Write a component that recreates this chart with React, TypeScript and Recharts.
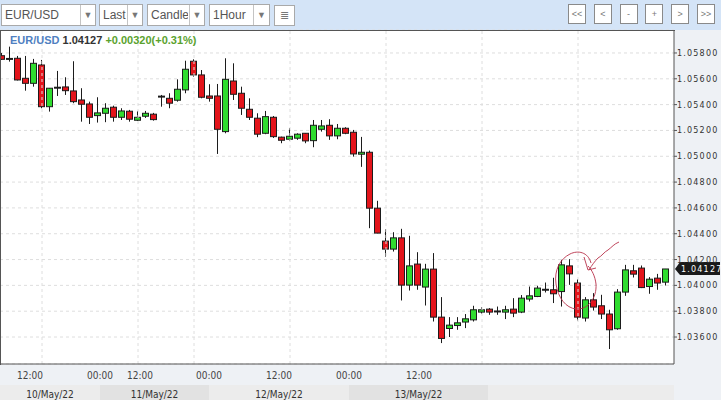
import React from 'react';
import { ComposedChart, Bar, XAxis, YAxis, CartesianGrid, ReferenceLine } from 'recharts';

// hourly EUR/USD candles
const opens = [
  1.05779, 1.05754, 1.05759, 1.05604, 1.05565, 1.05707, 1.05384, 1.05531, 1.05537, 1.05506,
  1.05436, 1.05405, 1.05315, 1.05333, 1.0538, 1.05302, 1.05349, 1.05279, 1.0531, 1.05326,
  1.05462, 1.05449, 1.05434, 1.05514, 1.05736, 1.0563, 1.05467, 1.05467, 1.05191, 1.05583,
  1.05488, 1.05364, 1.05295, 1.05178, 1.05302, 1.05148, 1.05132, 1.0514, 1.05178, 1.05121,
  1.05209, 1.0524, 1.05158, 1.05217, 1.05186, 1.05016, 1.05031, 1.04598, 1.04343, 1.04281,
  1.04368, 1.04002, 1.04165, 1.03987, 1.04126, 1.03754, 1.03666, 1.03689, 1.03716, 1.03733,
  1.03793, 1.03816, 1.03798, 1.03793, 1.03816, 1.03793, 1.03894, 1.03914, 1.03966, 1.03966,
  1.03952, 1.04151, 1.04018, 1.03747, 1.03888, 1.03842, 1.03778, 1.03664, 1.03948, 1.04113,
  1.04134, 1.03991, 1.04056, 1.04025,
];
const highs = [
  1.058, 1.05849, 1.05777, 1.05777, 1.05754, 1.05746, 1.05529, 1.05661, 1.05612, 1.05736,
  1.05527, 1.05423, 1.05457, 1.05411, 1.05392, 1.05372, 1.05359, 1.05351, 1.05351, 1.05336,
  1.05475, 1.05488, 1.05596, 1.0574, 1.05751, 1.05668, 1.05558, 1.0556, 1.05759, 1.0572,
  1.05539, 1.05449, 1.05333, 1.05351, 1.05312, 1.05152, 1.05217, 1.05178, 1.0518, 1.05281,
  1.05281, 1.05287, 1.0525, 1.05225, 1.05204, 1.0515, 1.05044, 1.04655, 1.04435, 1.04412,
  1.04438, 1.04384, 1.04257, 1.04167, 1.0425, 1.03909, 1.03754, 1.03754, 1.03778, 1.03842,
  1.03832, 1.03824, 1.03836, 1.03842, 1.03901, 1.03925, 1.03991, 1.03997, 1.04022, 1.04059,
  1.04198, 1.04203, 1.04048, 1.03909, 1.0394, 1.03927, 1.03811, 1.03971, 1.04159, 1.04159,
  1.04154, 1.04064, 1.04089, 1.04127,
];
const lows = [
  1.05746, 1.05733, 1.05587, 1.05508, 1.05539, 1.05372, 1.05346, 1.05467, 1.05475, 1.05411,
  1.05268, 1.0525, 1.05261, 1.05264, 1.05268, 1.05281, 1.05268, 1.05274, 1.05297, 1.05276,
  1.05384, 1.05372, 1.05423, 1.05488, 1.05617, 1.05449, 1.05423, 1.05018, 1.05178, 1.05436,
  1.0532, 1.05281, 1.05148, 1.05171, 1.05142, 1.05101, 1.05121, 1.05127, 1.05101, 1.0507,
  1.05191, 1.05127, 1.05132, 1.05171, 1.04997, 1.04918, 1.04443, 1.04403, 1.04223, 1.04262,
  1.03883, 1.0396, 1.03966, 1.03844, 1.0372, 1.03553, 1.036, 1.03656, 1.03669, 1.0372,
  1.0378, 1.03772, 1.03772, 1.03739, 1.03754, 1.03785, 1.03875, 1.03909, 1.03945, 1.03863,
  1.03836, 1.04004, 1.03728, 1.0372, 1.03805, 1.03739, 1.03507, 1.03656, 1.03919, 1.04061,
  1.03979, 1.03935, 1.03966, 1.03999,
];
const closes = [
  1.05751, 1.05754, 1.05591, 1.05565, 1.0572, 1.05384, 1.05527, 1.05531, 1.05508, 1.05423,
  1.05403, 1.05302, 1.05336, 1.05372, 1.05302, 1.05351, 1.05287, 1.05302, 1.05333, 1.05284,
  1.05462, 1.05411, 1.05519, 1.05674, 1.0563, 1.05457, 1.05449, 1.05209, 1.05596, 1.0548,
  1.05372, 1.05302, 1.05171, 1.05307, 1.05152, 1.05124, 1.05155, 1.05171, 1.05119, 1.0524,
  1.05235, 1.05158, 1.05217, 1.05178, 1.05018, 1.05031, 1.04598, 1.04405, 1.04281, 1.04368,
  1.04002, 1.04151, 1.04002, 1.04126, 1.03754, 1.03589, 1.03692, 1.0371, 1.03741, 1.03811,
  1.03811, 1.03793, 1.03798, 1.03811, 1.03785, 1.03901, 1.03919, 1.03979, 1.03966, 1.03935,
  1.04159, 1.04089, 1.03754, 1.03888, 1.03832, 1.03778, 1.03656, 1.03948, 1.0412, 1.04087,
  1.03983, 1.04048, 1.04018, 1.04127,
];

const priceTicks = [1.036, 1.038, 1.04, 1.042, 1.044, 1.046, 1.048, 1.05, 1.052, 1.054, 1.056, 1.058];
const gridHours = [5, 17, 24, 36, 48, 60, 72];
const timeTickPos = [3.5, 12.25, 17.25, 25.875, 34.625, 43.375, 52.125];
const timeTickLabels = ['12:00', '00:00', '12:00', '00:00', '12:00', '00:00', '12:00'];
const dateStarts = [-0.25, 12.25, 25.875, 43.375, 60.75];
const dateEnds = [12.25, 25.875, 43.375, 60.75, 84];
const dateLabels = ['10/May/22', '11/May/22', '12/May/22', '13/May/22', ''];
const dateShades = ['#ececec', '#e2e2e2', '#ececec', '#e2e2e2', '#ececec'];

const symbol = 'EUR/USD';
const lastPrice = 1.04127;
const changeText = '+0.00320(+0.31%)';

const X_DOMAIN: [number, number] = [-0.25, 84];
const Y_DOMAIN: [number, number] = [1.03391, 1.05978];
const PLOT_W = 674;
const PX_PER_UNIT = PLOT_W / (X_DOMAIN[1] - X_DOMAIN[0]);

const data = opens.map((o, i) => ({
  idx: i,
  open: o,
  high: highs[i],
  low: lows[i],
  close: closes[i],
}));

const INK = '#1c1c1c';

function Candle(props: any) {
  const { x, y, width, height, payload } = props;
  if (!payload) return null;
  const { open, close, high, low } = payload;
  const top = Math.min(y, y + height);
  const span = Math.abs(height);
  const k = span / (high - low);
  const py = (v: number) => top + (high - v) * k;
  const cx = Math.floor(x + width / 2) + 0.5;
  const bTop = py(Math.max(open, close));
  const bBot = py(Math.min(open, close));
  const fill = close > open ? '#2fdc2f' : '#e3141b';
  return (
    <g>
      <line x1={cx} x2={cx} y1={top} y2={top + span} stroke={INK} strokeWidth={1} />
      {open === close ? (
        <line x1={cx - 3.5} x2={cx + 3.5} y1={bTop} y2={bTop} stroke={INK} strokeWidth={2} />
      ) : (
        <rect x={cx - 3} y={bTop} width={6} height={Math.max(bBot - bTop, 1.5)} fill={fill} stroke={INK} strokeWidth={1} />
      )}
    </g>
  );
}

function PriceTick({ x, y, payload }: any) {
  return (
    <text x={x} y={y} dy={3} fontSize={8} fill="#333" letterSpacing={1.2} fontFamily="DejaVu Sans, sans-serif" textAnchor="start">
      {payload.value.toFixed(5)}
    </text>
  );
}

function TimeTick({ x, y, index }: any) {
  return (
    <text x={x} y={y + 13} fontSize={10} fill="#444" textAnchor="middle" fontFamily='"Liberation Sans Narrow", "DejaVu Sans Condensed", sans-serif'>
      {timeTickLabels[index]}
    </text>
  );
}

function DateTick({ x, y, index }: any) {
  const w = (dateEnds[index] - dateStarts[index]) * PX_PER_UNIT;
  return (
    <g>
      <rect x={x - w / 2} y={y} width={w} height={17} fill={dateShades[index]} />
      <text x={x} y={y + 13} fontSize={10} fill="#333" textAnchor="middle" fontFamily='"Liberation Sans Narrow", "DejaVu Sans Condensed", sans-serif'>
        {dateLabels[index]}
      </text>
    </g>
  );
}

function PriceTag({ viewBox }: any) {
  if (!viewBox) return null;
  const r = viewBox.x + viewBox.width;
  const y = viewBox.y;
  return (
    <g>
      <path d={`M${r + 1},${y} L${r + 6},${y - 7} L${r + 46},${y - 7} L${r + 46},${y + 6} L${r + 6},${y + 6} Z`} fill="#1a1a1a" />
      <text x={r + 7} y={y + 3} fontSize={8} fill="#fff" letterSpacing={1.2} fontFamily="DejaVu Sans, sans-serif">
        {lastPrice.toFixed(5)}
      </text>
    </g>
  );
}

function Dropdown({ left, width, split, label }: any) {
  return (
    <div style={{ position: 'absolute', left, top: 4, width, height: 22, boxSizing: 'border-box', border: '1px solid #a9a9a9', background: '#fff' }}>
      <div style={{ position: 'absolute', left: 3, top: 3, width: split - 4, overflow: 'hidden', whiteSpace: 'nowrap', fontSize: 12, color: '#555' }}>{label}</div>
      <div style={{ position: 'absolute', left: split, top: 0, bottom: 0, right: 0, borderLeft: '1px solid #c4c4c4', color: '#777', fontSize: 9, textAlign: 'center', lineHeight: '20px' }}>▼</div>
    </div>
  );
}

const navButtons = ['<<', '<', '-', '+', '>', '>>'];

export default function App() {
  return (
    <div style={{ position: 'absolute', left: 0, top: 0, width: 721, height: 400, overflow: 'hidden', background: '#eef1f5', fontFamily: '"Liberation Sans", Arial, sans-serif' }}>
      <div style={{ position: 'absolute', left: 0, top: 0, width: 721, height: 30, background: '#d4e4f7' }} />
      <div style={{ position: 'absolute', left: 0, top: 0 }}>
        <ComposedChart width={721} height={400} data={data} margin={{ top: 30, right: 0, left: 0, bottom: 0 }}>
          <CartesianGrid xAxisId="a" vertical={false} stroke="#dedede" strokeDasharray="3 3" fill="#fff" />
          <XAxis
            xAxisId="a"
            dataKey="idx"
            type="number"
            domain={X_DOMAIN}
            allowDataOverflow
            ticks={timeTickPos}
            interval={0}
            height={19}
            tickLine={false}
            tickSize={0}
            axisLine={{ stroke: '#555' }}
            tick={<TimeTick />}
          />
          <XAxis
            xAxisId="b"
            dataKey="idx"
            type="number"
            domain={X_DOMAIN}
            allowDataOverflow
            ticks={dateStarts.map((s, i) => (s + dateEnds[i]) / 2)}
            interval={0}
            height={17}
            tickLine={false}
            tickSize={0}
            axisLine={false}
            tick={<DateTick />}
          />
          <YAxis
            orientation="right"
            type="number"
            domain={Y_DOMAIN}
            allowDataOverflow
            ticks={priceTicks}
            interval={0}
            width={47}
            tickSize={3}
            tickMargin={0}
            tickLine={{ stroke: '#555' }}
            axisLine={{ stroke: '#555' }}
            tick={<PriceTick />}
          />
          {gridHours.map((h) => (
            <ReferenceLine key={h} xAxisId="a" x={h} stroke="#dedede" strokeDasharray="3 3" />
          ))}
          <Bar
            xAxisId="a"
            dataKey={(d: any) => [d.low, d.high]}
            barSize={7}
            shape={<Candle />}
            isAnimationActive={false}
          />
          <ReferenceLine xAxisId="a" y={lastPrice} stroke="none" ifOverflow="visible" label={<PriceTag />} />
        </ComposedChart>
      </div>
      <div style={{ position: 'absolute', left: 0, top: 30, width: 675, height: 335, boxSizing: 'border-box', borderLeft: '1px solid #555', borderTop: '1px solid #555', pointerEvents: 'none' }} />
      <div style={{ position: 'absolute', left: 10, top: 34, fontSize: 11, fontWeight: 'bold', whiteSpace: 'nowrap' }}>
        <span style={{ color: '#4f7fc1' }}>{symbol}</span>{' '}
        <span style={{ color: '#333' }}>{lastPrice.toFixed(5)}</span>{' '}
        <span style={{ color: '#5aa22d' }}>{changeText}</span>
      </div>
      <Dropdown left={1} width={95} split={78} label="EUR/USD" />
      <Dropdown left={99} width={44} split={27} label="Last" />
      <Dropdown left={147} width={58} split={41} label="Candle" />
      <Dropdown left={209} width={61} split={43} label="1Hour" />
      <div style={{ position: 'absolute', left: 274, top: 5, width: 21, height: 21, boxSizing: 'border-box', border: '1px solid #a9a9a9', background: '#fff', color: '#777', fontSize: 11, textAlign: 'center', lineHeight: '19px' }}>≣</div>
      {navButtons.map((b, i) => (
        <div key={i} style={{ position: 'absolute', left: 568 + i * 25.8, top: 4, width: 18, height: 20, boxSizing: 'border-box', border: '1px solid #8a8a8a', background: '#fff', color: '#777', fontSize: 9, textAlign: 'center', lineHeight: '18px' }}>{b}</div>
      ))}
      <svg width={721} height={400} style={{ position: 'absolute', left: 0, top: 0, pointerEvents: 'none' }}>
        <path d="M591,263 C588,252 578,250 570,254 C560,259 554,270 556,284 C558,298 566,308 576,309 C588,310 597,298 596,284 C595,276 592,270 588,266" fill="none" stroke="#b8314a" strokeWidth={0.9} />
        <path d="M619,242 C614,244 612,247 608,250 C604,252 602,256 598,258 C595,261 592,265 589,270 M584,257 L588,270 L596,268" fill="none" stroke="#b8314a" strokeWidth={0.9} />
      </svg>
    </div>
  );
}
